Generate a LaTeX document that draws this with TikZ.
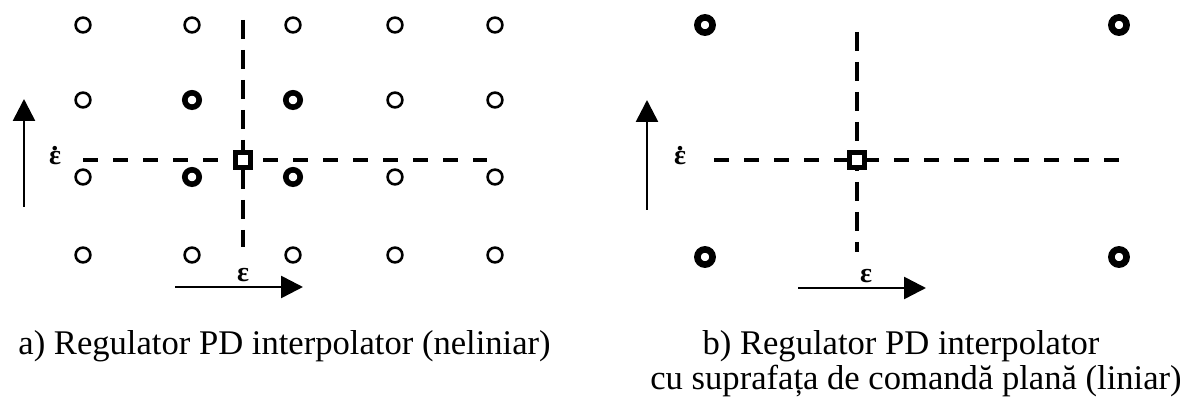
\documentclass[tikz,border=0pt]{standalone}
\usepackage{fontspec}
\setmainfont{Liberation Serif}
\usetikzlibrary{arrows.meta}

\newcommand\epsdot{\ooalign{ε\cr\hidewidth\raisebox{0.5em}{.}\hidewidth\cr}}

\begin{document}
\begin{tikzpicture}[
  x=0.5pt, y=-0.5pt,
  gpt/.style={circle, draw, line width=1.3pt, minimum size=7.4pt, inner sep=0pt},
  gptb/.style={gpt, line width=2.8pt, minimum size=7.2pt},
  sqbox/.style={draw, fill=white, line width=2.2pt, minimum size=7.5pt, inner sep=0pt},
  dh/.style={line width=2.4pt, dash pattern=on 7.5pt off 7.5pt},
  dv/.style={line width=2.4pt, dash pattern=on 9.5pt off 5.5pt},
  arr/.style={line width=1.3pt, -{Triangle[length=11pt,width=11pt]}},
  lbl/.style={font=\bfseries\fontsize{14}{16}\selectfont, inner sep=0pt},
  captxt/.style={font=\fontsize{17.3}{20}\selectfont, inner sep=0pt}
]
\useasboundingbox (0,0) rectangle (1191,405);

\foreach \x [count=\c] in {83,192,293,395,495}
  \foreach \y [count=\r] in {25,100,177,255} {
    \def\st{gpt}
    \ifnum\c>1 \ifnum\c<4 \ifnum\r>1 \ifnum\r<4 \def\st{gptb}\fi\fi\fi\fi
    \node[\st] (a\c\r) at (\x,\y) {};
  }

\coordinate (hla) at (83,160);
\coordinate (hra) at (487,160);
\coordinate (vta) at (243,20);
\coordinate (vba) at (243,247);
\draw[dh] (hla) -- (hra);
\draw[dv] (vta) -- (vba);
\node[sqbox] (sqa) at (243,160) {};

\coordinate (ula) at (24,207);
\coordinate (uha) at (24,99);
\draw[arr] (ula) -- (uha);
\coordinate (bla) at (175,287);
\coordinate (bha) at (303,287);
\draw[arr] (bla) -- (bha);
\node[lbl] (eda) at (55,158) {\epsdot};
\node[lbl] (ea) at (243,275) {ε};

\foreach \x [count=\c] in {705,1119}
  \foreach \y [count=\r] in {25,257}
    \node[gptb, line width=3.3pt, minimum size=7.6pt] (b\c\r) at (\x,\y) {};

\coordinate (hlb) at (714,160);
\coordinate (hrb) at (1120,160);
\coordinate (vtb) at (857,32);
\coordinate (vbb) at (857,252);
\draw[dh] (hlb) -- (hrb);
\draw[dv] (vtb) -- (vbb);
\node[sqbox] (sqb) at (857,160) {};

\coordinate (ulb) at (647,210);
\coordinate (uhb) at (647,100);
\draw[arr] (ulb) -- (uhb);
\coordinate (blb) at (798,288);
\coordinate (bhb) at (926,288);
\draw[arr] (blb) -- (bhb);
\node[lbl] (edb) at (680,158) {\epsdot};
\node[lbl] (eb) at (866,276) {ε};

\node[captxt, anchor=base west] (capa) at (18,355) {a) Regulator PD interpolator (neliniar)};
\node[captxt, anchor=base] (capb1) at (901,355) {b) Regulator PD interpolator};
\node[captxt, anchor=base] (capb2) at (916,390) {cu suprafața de comandă plană (liniar)};
\end{tikzpicture}
\end{document}
